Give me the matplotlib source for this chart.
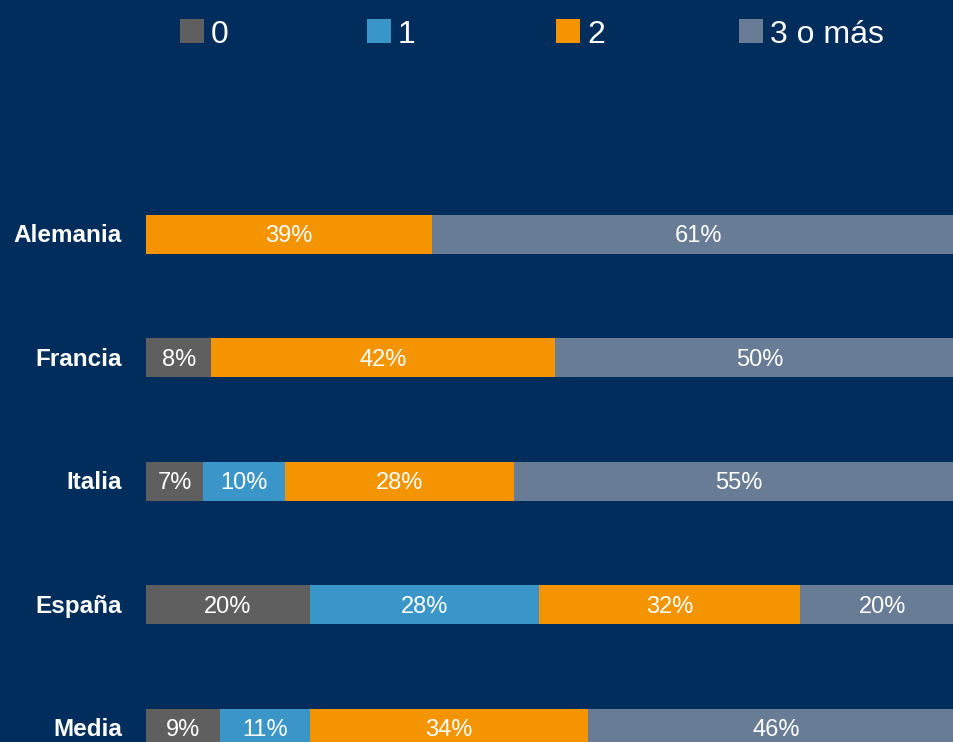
import matplotlib
matplotlib.use("Agg")
import matplotlib.pyplot as plt
from matplotlib.patches import Rectangle
import numpy as np

plt.rcParams['font.family'] = ['Liberation Sans', 'DejaVu Sans']

# data
countries = ['Alemania', 'Francia', 'Italia', 'España', 'Media']
series = ['0', '1', '2', '3 o más']
colors = ['#5f5f5f', '#3a95c9', '#f39400', '#687d95']
# segment widths as drawn (share of bar)
v0 = [0, 8, 7, 20, 9]
v1 = [0, 0, 10, 28, 11]
v2 = [35, 42, 28, 32, 34]
v3 = [65, 50, 55, 20, 46]
# labels as printed on the chart
lab0 = ['', '8%', '7%', '20%', '9%']
lab1 = ['', '', '10%', '28%', '11%']
lab2 = ['39%', '42%', '28%', '32%', '34%']
lab3 = ['61%', '50%', '55%', '20%', '46%']

bg = '#002d5c'
W, H = 954, 742
fig = plt.figure(figsize=(W / 100, H / 100), dpi=100, facecolor=bg)

# axes spans x pixels 146..964 (right end runs off the figure)
ax = fig.add_axes([146 / W, 0, 818 / W, 1])
ax.set_facecolor(bg)
ax.set_xlim(0, 100)
pitch = 123.5
ax.set_ylim((H - 234) / pitch, -234 / pitch)
for s in ax.spines.values():
    s.set_visible(False)
ax.set_xticks([])
ax.set_yticks([])

base = 8.5 / pitch  # baseline sits below the bar centre

y = np.arange(len(countries))
vals = [v0, v1, v2, v3]
labs = [lab0, lab1, lab2, lab3]
left = np.zeros(len(countries))
for k in range(len(series)):
    w = np.array(vals[k], dtype=float)
    ax.barh(y, w, left=left, height=39 / pitch, color=colors[k], linewidth=0)
    for i in range(len(countries)):
        if w[i] > 0 and labs[k][i]:
            ax.text(left[i] + w[i] / 2, y[i] + base, labs[k][i], ha='center',
                    va='baseline', color='white', fontsize=17)
    left += w

for i, c in enumerate(countries):
    ax.text(-24 / 818 * 100, y[i] + base, c, ha='right', va='baseline',
            color='white', fontsize=17.5, fontweight='bold')

# legend drawn by hand
leg_x = [180, 367, 556, 739]
for k in range(len(series)):
    fig.add_artist(Rectangle((leg_x[k] / W, 1 - 43 / H), 24 / W, 24 / H,
                             transform=fig.transFigure, facecolor=colors[k],
                             edgecolor='none'))
    fig.text((leg_x[k] + 31) / W, 1 - 43 / H, series[k], ha='left', va='baseline',
             color='white', fontsize=23)

fig.savefig('out.png', dpi=100, facecolor=bg)
